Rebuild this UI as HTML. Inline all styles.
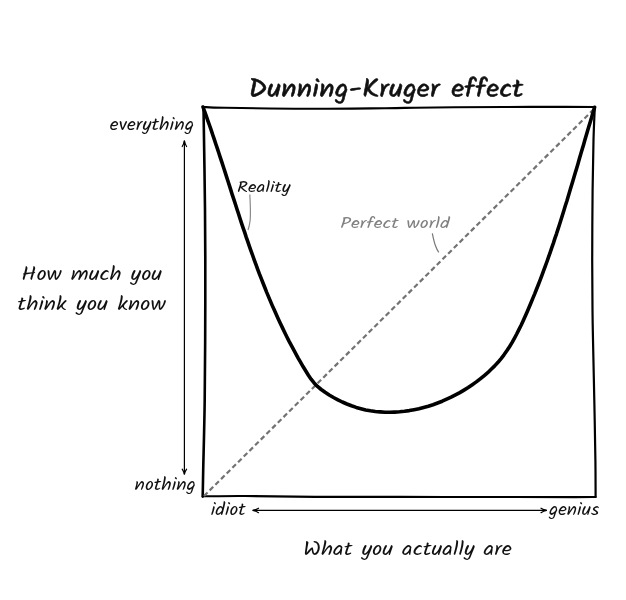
<!DOCTYPE html>
<html>
<head>
<meta charset="utf-8">
<style>
html,body{margin:0;padding:0;background:#fff;width:626px;height:600px;overflow:hidden}
svg{display:block}
text{font-family:"Kalam","Liberation Sans",sans-serif;fill:#111}
</style>
</head>
<body>
<svg width="626" height="600" viewBox="0 0 626 600">
<rect width="626" height="600" fill="#fff"/>
<g fill="none" stroke="#000" stroke-linecap="round" stroke-linejoin="round">
<path d="M203.30 107.00 C206.92 107.13 208.05 107.50 225.00 107.80 C241.95 108.10 278.33 108.73 305.00 108.80 C331.67 108.87 366.67 108.38 385.00 108.20 C403.33 108.02 403.33 107.87 415.00 107.70 C426.67 107.53 440.00 107.33 455.00 107.20 C470.00 107.08 486.67 107.01 505.00 106.95 C523.33 106.89 550.00 106.84 565.00 106.85 C580.00 106.86 590.00 106.97 595.00 107.00" stroke-width="2.1"/>
<path d="M203.50 107.00 C203.75 124.17 204.70 177.83 205.00 210.00 C205.30 242.17 205.35 268.33 205.30 300.00 C205.25 331.67 205.05 371.67 204.70 400.00 C204.35 428.33 203.53 453.90 203.20 470.00 C202.87 486.10 202.78 492.17 202.70 496.60" stroke-width="2.6"/>
<path d="M202.70 496.30 C209.75 496.25 226.28 495.90 245.00 496.00 C263.72 496.10 289.17 496.75 315.00 496.90 C340.83 497.05 370.00 496.88 400.00 496.90 C430.00 496.92 465.83 496.97 495.00 497.00 C524.17 497.03 558.23 497.10 575.00 497.10 C591.77 497.10 592.17 497.02 595.60 497.00" stroke-width="2.1"/>
<path d="M594.80 107.00 C594.58 112.50 593.87 126.17 593.50 140.00 C593.13 153.83 592.82 170.00 592.60 190.00 C592.38 210.00 592.22 240.00 592.20 260.00 C592.18 280.00 592.37 296.67 592.50 310.00 C592.63 323.33 592.70 325.00 593.00 340.00 C593.30 355.00 593.90 380.00 594.30 400.00 C594.70 420.00 595.18 443.83 595.40 460.00 C595.62 476.17 595.57 490.83 595.60 497.00" stroke-width="2.2"/>
</g>
<path d="M204 496 L595 108" stroke="#737373" stroke-width="2.2" stroke-dasharray="5 3" fill="none"/>
<path id="curve" fill="none" stroke="#000" stroke-width="3.6" stroke-linecap="round" stroke-linejoin="round"
 d="M203.0 107.0 L204.7 111.6 L206.3 116.2 L207.9 120.8 L209.6 125.5 L211.2 130.1 L212.7 134.7 L214.3 139.4 L215.8 144.0 L217.4 148.6 L218.9 153.3 L220.4 157.9 L222.0 162.6 L223.5 167.3 L225.0 171.9 L226.5 176.6 L228.0 181.2 L229.5 185.9 L231.0 190.6 L232.4 195.2 L234.0 199.9 L235.5 204.5 L237.0 209.2 L238.5 213.8 L240.0 218.5 L241.5 223.1 L243.1 227.8 L244.7 232.4 L246.2 237.1 L247.8 241.7 L249.4 246.3 L251.0 250.9 L252.7 255.5 L254.3 260.1 L256.0 264.7 L257.7 269.3 L259.4 273.9 L261.2 278.4 L263.0 283.0 L264.8 287.5 L266.6 292.1 L268.5 296.6 L270.4 301.1 L272.3 305.6 L274.3 310.1 L276.3 314.6 L278.3 319.0 L280.4 323.5 L282.5 327.9 L284.6 332.3 L286.8 336.7 L289.0 341.1 L291.3 345.4 L293.6 349.7 L296.0 354.1 L298.3 358.3 L300.8 362.6 L303.2 366.8 L305.8 371.0 L308.4 375.2 L311.1 379.2 L314.1 382.9 L317.5 386.4 L321.2 389.5 L325.1 392.3 L329.2 395.0 L333.5 397.5 L337.9 399.8 L342.3 402.0 L346.9 404.0 L351.5 405.8 L356.2 407.4 L360.9 408.7 L365.6 409.9 L370.4 410.8 L375.3 411.5 L380.1 411.9 L385.0 412.2 L389.9 412.3 L394.7 412.1 L399.6 411.8 L404.5 411.3 L409.3 410.6 L414.1 409.7 L418.9 408.7 L423.6 407.5 L428.3 406.2 L433.0 404.7 L437.6 403.0 L442.2 401.2 L446.7 399.2 L451.1 397.2 L455.5 394.9 L459.8 392.6 L464.0 390.1 L468.2 387.5 L472.3 384.7 L476.3 381.9 L480.2 378.9 L484.0 375.8 L487.7 372.7 L491.2 369.3 L494.7 365.9 L498.0 362.3 L501.1 358.6 L504.0 354.8 L506.8 350.8 L509.5 346.7 L512.0 342.6 L514.4 338.3 L516.7 334.0 L518.9 329.6 L521.1 325.2 L523.2 320.7 L525.2 316.2 L527.2 311.7 L529.1 307.2 L531.0 302.7 L532.9 298.1 L534.8 293.6 L536.6 289.0 L538.4 284.5 L540.2 279.9 L541.9 275.3 L543.6 270.7 L545.3 266.1 L547.0 261.5 L548.6 256.9 L550.2 252.3 L551.8 247.7 L553.4 243.1 L554.9 238.4 L556.5 233.8 L558.0 229.1 L559.5 224.5 L561.0 219.8 L562.4 215.2 L563.9 210.5 L565.3 205.8 L566.8 201.2 L568.2 196.5 L569.6 191.8 L571.0 187.1 L572.4 182.4 L573.8 177.7 L575.2 173.1 L576.6 168.4 L578.0 163.7 L579.3 159.0 L580.7 154.3 L582.1 149.6 L583.5 144.9 L584.8 140.2 L586.2 135.5 L587.6 130.8 L589.0 126.1 L590.4 121.4 L591.8 116.7 L593.2 112.0 L594.6 107.3"/>
<path d="M249.8 194.5 Q250.8 212 250.2 220 Q249.5 226 248 230" stroke="#8a8a8a" stroke-width="1.2" fill="none"/>
<path d="M432.3 233.3 Q434.2 242.5 435.6 246 Q437 250 438.8 252.3" stroke="#777" stroke-width="1.2" fill="none"/>
<g stroke="#000" stroke-width="1.2" fill="none" stroke-linecap="round">
<path d="M184.4 141 L184.4 474"/>
<path d="M182.2 146.5 Q183.8 144 184.4 140.6 Q185 144 186.6 146.5"/>
<path d="M182.2 469.2 Q183.8 471.5 184.4 474.4 Q185 471.5 186.6 469.2"/>
<path d="M253 510.4 L546.5 510.4"/>
<path d="M258.5 508.2 Q256 509.8 252.8 510.4 Q256 511 258.5 512.7"/>
<path d="M541 508.2 Q543.5 509.8 546.7 510.4 Q543.5 511 541 512.7"/>
</g>
<text id="t_title" transform="translate(0 96.5) skewX(5)" x="248.98" y="0" textLength="275.15" lengthAdjust="spacingAndGlyphs" style="font-size:26px;font-weight:400;fill:#111;stroke:#111;stroke-width:0.55px;stroke-linejoin:round">Dunning-Kruger effect</text>
<text id="t_every" x="109.80" y="130.2" textLength="84.27" lengthAdjust="spacingAndGlyphs" style="font-size:16.5px;font-weight:400;fill:#111">everything</text>
<text id="t_nothing" x="134.60" y="489.6" textLength="61.25" lengthAdjust="spacingAndGlyphs" style="font-size:16.5px;font-weight:400;fill:#111">nothing</text>
<text id="t_how" x="21.35" y="280.4" textLength="140.83" lengthAdjust="spacingAndGlyphs" style="font-size:19.5px;font-weight:400;fill:#111">How much you</text>
<text id="t_think" x="17.33" y="310.0" textLength="148.51" lengthAdjust="spacingAndGlyphs" style="font-size:19.5px;font-weight:400;fill:#111">think you know</text>
<text id="t_reality" x="237.02" y="192.2" textLength="53.67" lengthAdjust="spacingAndGlyphs" style="font-size:16px;font-weight:400;fill:#111">Reality</text>
<text id="t_perfect" x="340.38" y="227.5" textLength="109.34" lengthAdjust="spacingAndGlyphs" style="font-size:16px;font-weight:400;fill:#808080">Perfect world</text>
<text id="t_idiot" x="210.75" y="515.2" textLength="35.00" lengthAdjust="spacingAndGlyphs" style="font-size:16.5px;font-weight:400;fill:#111">idiot</text>
<text id="t_genius" x="549.00" y="515.2" textLength="50.15" lengthAdjust="spacingAndGlyphs" style="font-size:16.5px;font-weight:400;fill:#111">genius</text>
<text id="t_what" x="303.34" y="555.2" textLength="208.47" lengthAdjust="spacingAndGlyphs" style="font-size:19.5px;font-weight:400;fill:#111">What you actually are</text>
</svg>
</body>
</html>
